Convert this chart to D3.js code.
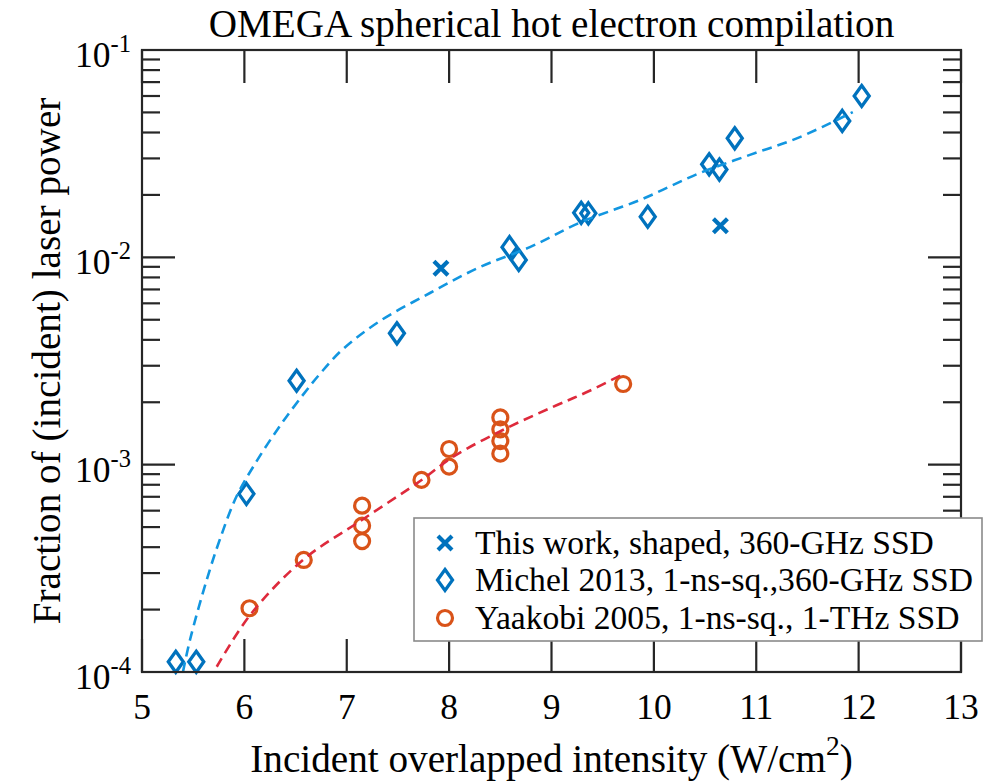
<!DOCTYPE html>
<html>
<head>
<meta charset="utf-8">
<script src="https://cdn.jsdelivr.net/npm/d3@7/dist/d3.min.js"></script>
<style>
  html, body { margin: 0; padding: 0; background: #fff; }
  svg { display: block; }
  text { font-family: "Liberation Serif", "Times New Roman", serif; fill: #000; }
</style>
</head>
<body>
<svg id="chart" width="990" height="781"></svg>
<script>
// ---- data ----
const xTicks = [5, 6, 7, 8, 9, 10, 11, 12, 13];
const yTickExps = [-4, -3, -2, -1];

// This work, shaped, 360-GHz SSD
const thisWorkX = [7.92, 10.65];
const thisWorkY = [8.85e-3, 1.42e-2];

// Michel 2013, 1-ns-sq., 360-GHz SSD
const michelX = [5.33, 5.53, 6.02, 6.51, 7.49, 8.59, 8.68, 9.29, 9.36, 9.94, 10.54, 10.64, 10.79, 11.84, 12.03];
const michelY = [1.12e-4, 1.12e-4, 7.23e-4, 2.54e-3, 4.30e-3, 1.12e-2, 9.71e-3, 1.64e-2, 1.63e-2, 1.57e-2, 2.81e-2, 2.65e-2, 3.75e-2, 4.55e-2, 6.00e-2];

// Yaakobi 2005, 1-ns-sq., 1-THz SSD
const yaakobiX = [6.05, 6.58, 7.15, 7.15, 7.15, 7.73, 8.00, 8.00, 8.50, 8.50, 8.50, 8.50, 9.70];
const yaakobiY = [2.03e-4, 3.47e-4, 6.34e-4, 5.08e-4, 4.28e-4, 8.44e-4, 1.19e-3, 9.78e-4, 1.69e-3, 1.48e-3, 1.30e-3, 1.13e-3, 2.45e-3];

// dashed trend curves
const blueFitX = [5.40, 5.469, 5.632, 5.762, 5.925, 6.120, 6.348, 6.572, 6.738, 6.963, 7.324, 7.813, 8.301, 8.789, 9.277, 9.863, 10.449, 10.938, 11.426, 11.943];
const blueFitY = [1.0e-4, 1.43e-4, 2.78e-4, 4.38e-4, 7.06e-4, 1.04e-3, 1.54e-3, 2.17e-3, 2.74e-3, 3.61e-3, 4.93e-3, 6.73e-3, 8.98e-3, 1.12e-2, 1.47e-2, 1.89e-2, 2.55e-2, 3.12e-2, 3.80e-2, 5.02e-2];
const redFitX = [5.73, 6.055, 6.572, 7.148, 7.731, 8.037, 8.525, 9.014, 9.346, 9.697];
const redFitY = [1.06e-4, 1.88e-4, 3.47e-4, 5.41e-4, 8.43e-4, 1.09e-3, 1.47e-3, 1.90e-3, 2.24e-3, 2.73e-3];

const legendLabels = [
  "This work, shaped, 360-GHz SSD",
  "Michel 2013, 1-ns-sq.,360-GHz SSD",
  "Yaakobi 2005, 1-ns-sq., 1-THz SSD"
];

// ---- layout ----
const plot = { left: 142, right: 961, top: 50, bottom: 672 };
const colBlue = "#0072BD", colOrange = "#D95319";
const colBlueFit = "#1296E0", colRedFit = "#DE2A3C";
const axisCol = "#262626";

const svg = d3.select("#chart");
const x = d3.scaleLinear().domain([5, 13]).range([plot.left, plot.right]);
const y = d3.scaleLog().domain([1e-4, 1e-1]).range([plot.bottom, plot.top]);

// ---- markers ----
const diamond = (cx, cy) => `M${cx},${cy - 10.5}L${cx + 7.5},${cy}L${cx},${cy + 10.5}L${cx - 7.5},${cy}Z`;
const cross = (cx, cy) => `M${cx - 7},${cy - 7}L${cx + 7},${cy + 7}M${cx - 7},${cy + 7}L${cx + 7},${cy - 7}`;

const gData = svg.append("g");

gData.selectAll("circle.yaakobi").data(d3.zip(yaakobiX, yaakobiY)).join("circle")
  .attr("class", "yaakobi")
  .attr("cx", d => x(d[0])).attr("cy", d => y(d[1])).attr("r", 7.5)
  .attr("fill", "none").attr("stroke", colOrange).attr("stroke-width", 3.2);

gData.selectAll("path.michel").data(d3.zip(michelX, michelY)).join("path")
  .attr("class", "michel")
  .attr("d", d => diamond(x(d[0]), y(d[1])))
  .attr("fill", "none").attr("stroke", colBlue).attr("stroke-width", 3.3)
  .attr("stroke-linejoin", "miter");

gData.selectAll("path.thiswork").data(d3.zip(thisWorkX, thisWorkY)).join("path")
  .attr("class", "thiswork")
  .attr("d", d => cross(x(d[0]), y(d[1])))
  .attr("fill", "none").attr("stroke", colBlue).attr("stroke-width", 4.2);

// ---- trend curves ----
const line = d3.line().x(d => x(d[0])).y(d => y(d[1])).curve(d3.curveCatmullRom.alpha(0.5));
gData.append("path").datum(d3.zip(blueFitX, blueFitY))
  .attr("d", line).attr("fill", "none").attr("stroke", colBlueFit)
  .attr("stroke-width", 2.6).attr("stroke-dasharray", "10,6");
gData.append("path").datum(d3.zip(redFitX, redFitY))
  .attr("d", line).attr("fill", "none").attr("stroke", colRedFit)
  .attr("stroke-width", 2.6).attr("stroke-dasharray", "10,6");

// ---- axes box & ticks ----
const gAxes = svg.append("g").attr("stroke", axisCol).attr("stroke-width", 2.2);
gAxes.append("rect")
  .attr("x", plot.left).attr("y", plot.top)
  .attr("width", plot.right - plot.left).attr("height", plot.bottom - plot.top)
  .attr("fill", "none");

const majorLen = 33, minorLen = 18;
xTicks.forEach(t => {
  const px = x(t);
  gAxes.append("line").attr("x1", px).attr("x2", px).attr("y1", plot.bottom).attr("y2", plot.bottom - majorLen);
  gAxes.append("line").attr("x1", px).attr("x2", px).attr("y1", plot.top).attr("y2", plot.top + majorLen);
});
yTickExps.forEach(e => {
  const py = y(Math.pow(10, e));
  gAxes.append("line").attr("x1", plot.left).attr("x2", plot.left + majorLen).attr("y1", py).attr("y2", py);
  gAxes.append("line").attr("x1", plot.right).attr("x2", plot.right - majorLen).attr("y1", py).attr("y2", py);
});
const minorVals = [];
yTickExps.slice(0, -1).forEach(e => { for (let m = 2; m <= 9; m++) minorVals.push(m * Math.pow(10, e)); });
minorVals.forEach(v => {
  const py = y(v);
  gAxes.append("line").attr("x1", plot.left).attr("x2", plot.left + minorLen).attr("y1", py).attr("y2", py);
  gAxes.append("line").attr("x1", plot.right).attr("x2", plot.right - minorLen).attr("y1", py).attr("y2", py);
});

// ---- tick labels ----
const tickFont = 35.5;
svg.append("g").selectAll("text").data(xTicks).join("text")
  .attr("x", d => x(d)).attr("y", plot.bottom + 47)
  .attr("text-anchor", "middle").attr("font-size", tickFont)
  .attr("fill", axisCol)
  .text(d => d);

const yl = svg.append("g").selectAll("text").data(yTickExps).join("text")
  .attr("x", plot.left - 11).attr("y", d => y(Math.pow(10, d)) + 17)
  .attr("text-anchor", "end").attr("font-size", tickFont).attr("fill", axisCol);
yl.append("tspan").text("10");
yl.append("tspan").attr("dy", -15).attr("font-size", 24.5).text(d => d);

// ---- titles ----
svg.append("text").attr("x", (plot.left + plot.right) / 2).attr("y", 37)
  .attr("text-anchor", "middle").attr("font-size", 39.2)
  .text("OMEGA spherical hot electron compilation");

const xl = svg.append("text").attr("x", (plot.left + plot.right) / 2).attr("y", 772)
  .attr("text-anchor", "middle").attr("font-size", 39.2).attr("fill", axisCol);
xl.append("tspan").text("Incident overlapped intensity (W/cm");
xl.append("tspan").attr("dy", -17).attr("font-size", 27.5).text("2");
xl.append("tspan").attr("dy", 17).text(")");

svg.append("text")
  .attr("transform", `translate(60,${(plot.top + plot.bottom) / 2}) rotate(-90)`)
  .attr("text-anchor", "middle").attr("font-size", 39.2).attr("fill", axisCol)
  .text("Fraction of (incident) laser power");

// ---- legend ----
const lg = svg.append("g");
lg.append("rect").attr("x", 414).attr("y", 518).attr("width", 568).attr("height", 123)
  .attr("fill", "#fff").attr("stroke", "#8a8a8a").attr("stroke-width", 1.6);
const rowY = [543, 580, 618];
const mx = 445;
lg.append("path").attr("d", cross(mx, rowY[0])).attr("fill", "none")
  .attr("stroke", colBlue).attr("stroke-width", 4.2);
lg.append("path").attr("d", diamond(mx, rowY[1])).attr("fill", "none")
  .attr("stroke", colBlue).attr("stroke-width", 3.3);
lg.append("circle").attr("cx", mx).attr("cy", rowY[2]).attr("r", 7.5).attr("fill", "none")
  .attr("stroke", colOrange).attr("stroke-width", 3.2);
lg.selectAll("text").data(legendLabels).join("text")
  .attr("x", 475).attr("y", (d, i) => rowY[i] + 11)
  .attr("font-size", 33.6)
  .text(d => d);
</script>
</body>
</html>
